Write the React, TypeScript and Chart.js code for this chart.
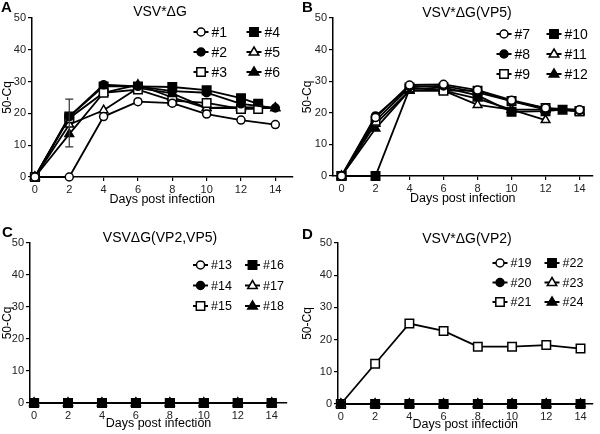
import React, { useEffect, useRef } from "react";
import { Chart, registerables } from "chart.js";

Chart.register(...registerables);
Chart.defaults.font.family = "'Liberation Sans', Arial, Helvetica, sans-serif";

// ---------- data ----------
const days = [0, 2, 4, 6, 8, 10, 12, 14];
const daysTo13 = [0, 2, 4, 6, 8, 10, 12, 13];
const daysTo12 = [0, 2, 4, 6, 8, 10, 12];
const daysB10 = [0, 2, 4, 6, 8, 10, 12, 13, 14];
const xTicks = [0, 2, 4, 6, 8, 10, 12, 14];
const yTicks = [0, 10, 20, 30, 40, 50];

// Panel A: VSV*ΔG
const a1 = [0, 0, 19, 23.7, 23.2, 19.8, 17.9, 16.5];
const a2 = [0, 19, 29, 28.5, 27, 26.5, 23, 21.7];
const a3 = [0, 18.5, 26.5, 27.5, 24, 23.3, 21.4, 21.4];
const a4 = [0, 19, 28.5, 28.5, 28.3, 27.3, 24.8, 23];
const a5 = [0, 16.5, 21, 28, 26.3, 21.7, 22, 21.7];
const a6 = [0, 13.5, 26.5, 29, 25, 21.7, 21.7, 21.7];
const aErrX = [2];
const aErrLow = [9.5];
const aErrHigh = [24.5];

// Panel B: VSV*ΔG(VP5)
const b7 = [0, 18.5, 28.8, 29, 27.2, 24, 21.5, 21];
const b8 = [0, 19, 28.3, 28.5, 26.5, 23.7, 21, 20.8];
const b9 = [0, 17.5, 28, 27, 27, 23.7, 21.5, 20.5];
const b10 = [0, 0, 27.5, 28, 25.5, 20.3, 20.5, 21, 20.5];
const b11 = [0, 16.5, 27, 27, 22.5, 21, 17.7];
const b12 = [0, 15, 27, 27, 24.5, 21, 21, 20.5];

// Panel C: VSVΔG(VP2,VP5)
const c13 = [0, 0, 0, 0, 0, 0, 0, 0];
const c14 = [0, 0, 0, 0, 0, 0, 0, 0];
const c15 = [0, 0, 0, 0, 0, 0, 0, 0];
const c16 = [0, 0, 0, 0, 0, 0, 0, 0];
const c17 = [0, 0, 0, 0, 0, 0, 0, 0];
const c18 = [0, 0, 0, 0, 0, 0, 0, 0];

// Panel D: VSV*ΔG(VP2)
const d19 = [0, 0, 0, 0, 0, 0, 0, 0];
const d20 = [0, 0, 0, 0, 0, 0, 0, 0];
const d21 = [0, 12.5, 25, 22.7, 17.8, 17.8, 18.3, 17.2];
const d22 = [0, 0, 0, 0, 0, 0, 0, 0];
const d23 = [0, 0, 0, 0, 0, 0, 0, 0];
const d24 = [0, 0, 0, 0, 0, 0, 0, 0];

// marker kinds in legend order
const markerKinds = ["openCircle", "filledCircle", "openRect", "filledRect", "openTriangle", "filledTriangle"];

// ---------- helpers ----------
function pts(xs: number[], ys: number[]) {
  return ys.map((y, i) => ({ x: xs[i], y }));
}

function markerStyle(kind: string) {
  const open = kind.startsWith("open");
  let pointStyle = "circle";
  let radius = 4;
  if (kind.endsWith("Rect")) {
    pointStyle = "rect";
    radius = 6;
  } else if (kind.endsWith("Triangle")) {
    pointStyle = "triangle";
    radius = 5;
  }
  return {
    pointStyle,
    pointRadius: radius,
    pointBackgroundColor: open ? "#fff" : "#000",
    pointBorderColor: "#000",
    pointBorderWidth: 1.5,
  };
}

function drawMarker(ctx: CanvasRenderingContext2D, kind: string, x: number, y: number) {
  const open = kind.startsWith("open");
  ctx.save();
  ctx.beginPath();
  if (kind.endsWith("Circle")) {
    ctx.arc(x, y, 4, 0, Math.PI * 2);
  } else if (kind.endsWith("Rect")) {
    const s = 4.2;
    ctx.rect(x - s, y - s, 2 * s, 2 * s);
  } else {
    const r = 5;
    ctx.moveTo(x, y - r);
    ctx.lineTo(x + r * 0.95, y + r * 0.6);
    ctx.lineTo(x - r * 0.95, y + r * 0.6);
    ctx.closePath();
  }
  ctx.fillStyle = open ? "#fff" : "#000";
  ctx.fill();
  ctx.lineWidth = 1.5;
  ctx.strokeStyle = "#000";
  ctx.stroke();
  ctx.restore();
}

const customLegend = {
  id: "customLegend",
  afterDraw(chart: any, _args: any, opts: any) {
    if (!opts || !opts.labels) return;
    const ctx = chart.ctx as CanvasRenderingContext2D;
    const area = chart.chartArea;
    ctx.save();
    ctx.font = `${opts.fontSize}px 'Liberation Sans', Arial, sans-serif`;
    ctx.textBaseline = "middle";
    ctx.fillStyle = "#000";
    opts.labels.forEach((label: string, i: number) => {
      const col = i < 3 ? 0 : 1;
      const row = i % 3;
      const x0 = area.right + (col === 0 ? opts.col1 : opts.col2);
      const y = area.top + opts.rowTop + row * opts.rowGap;
      ctx.beginPath();
      ctx.moveTo(x0, y);
      ctx.lineTo(x0 + 15, y);
      ctx.lineWidth = 2;
      ctx.strokeStyle = "#000";
      ctx.stroke();
      drawMarker(ctx, markerKinds[i], x0 + 7.5, y);
      ctx.fillStyle = "#000";
      ctx.fillText(label, x0 + 18, y + 1);
    });
    ctx.restore();
  },
};

const panelTitle = {
  id: "panelTitle",
  afterDraw(chart: any, _args: any, opts: any) {
    if (!opts || !opts.text) return;
    const ctx = chart.ctx as CanvasRenderingContext2D;
    ctx.save();
    ctx.fillStyle = "#000";
    ctx.textBaseline = "middle";
    ctx.textAlign = "center";
    ctx.font = "14px 'Liberation Sans', Arial, sans-serif";
    ctx.fillText(opts.text, opts.titleX, opts.titleY);
    ctx.textAlign = "left";
    ctx.font = "bold 15px 'Liberation Sans', Arial, sans-serif";
    ctx.fillText(opts.letter, opts.letterX, opts.letterY);
    ctx.restore();
  },
};

const errorBars = {
  id: "errorBars",
  afterDatasetsDraw(chart: any, _args: any, opts: any) {
    if (!opts || !opts.xs) return;
    const ctx = chart.ctx as CanvasRenderingContext2D;
    const xs = chart.scales.x;
    const ys = chart.scales.y;
    ctx.save();
    ctx.strokeStyle = "#333";
    ctx.lineWidth = 1.2;
    opts.xs.forEach((xv: number, i: number) => {
      const px = xs.getPixelForValue(xv);
      const lo = ys.getPixelForValue(opts.low[i]);
      const hi = ys.getPixelForValue(opts.high[i]);
      ctx.beginPath();
      ctx.moveTo(px, lo);
      ctx.lineTo(px, hi);
      ctx.moveTo(px - 4, lo);
      ctx.lineTo(px + 4, lo);
      ctx.moveTo(px - 4, hi);
      ctx.lineTo(px + 4, hi);
      ctx.stroke();
    });
    ctx.restore();
  },
};

type SeriesDef = { xs: number[]; ys: number[]; order?: number };

type PanelDef = {
  letter: string;
  title: string;
  labels: string[];
  series: SeriesDef[];
  xMin: number;
  xMax: number;
  yWidth: number;
  xHeight: number;
  padding: { top: number; left: number; right: number; bottom: number };
  titleX: number;
  titleY: number;
  letterX: number;
  letterY: number;
  legend: { col1: number; col2: number; rowTop: number; rowGap: number; fontSize: number };
  err?: { xs: number[]; low: number[]; high: number[] };
};

const panels: PanelDef[] = [
  {
    letter: "A",
    title: "VSV*ΔG",
    labels: ["#1", "#2", "#3", "#4", "#5", "#6"],
    series: [
      { xs: days, ys: a1 },
      { xs: days, ys: a2 },
      { xs: daysTo13, ys: a3 },
      { xs: daysTo13, ys: a4 },
      { xs: days, ys: a5 },
      { xs: days, ys: a6 },
    ],
    xMin: -0.17,
    xMax: 15,
    yWidth: 32,
    xHeight: 30,
    padding: { top: 18, left: 0, right: 7, bottom: 10 },
    titleX: 160,
    titleY: 12,
    letterX: 1,
    letterY: 8,
    legend: { col1: -99, col2: -46, rowTop: 14, rowGap: 20, fontSize: 14 },
    err: { xs: aErrX, low: aErrLow, high: aErrHigh },
  },
  {
    letter: "B",
    title: "VSV*ΔG(VP5)",
    labels: ["#7", "#8", "#9", "#10", "#11", "#12"],
    series: [
      { xs: days, ys: b7 },
      { xs: days, ys: b8 },
      { xs: days, ys: b9 },
      { xs: daysB10, ys: b10 },
      { xs: daysTo12, ys: b11 },
      { xs: days, ys: b12 },
    ],
    xMin: -0.5,
    xMax: 14.76,
    yWidth: 33,
    xHeight: 30,
    padding: { top: 18, left: 0, right: 7, bottom: 11 },
    titleX: 167,
    titleY: 13,
    letterX: 2,
    letterY: 8,
    legend: { col1: -96, col2: -46, rowTop: 16, rowGap: 20, fontSize: 14 },
  },
  {
    letter: "C",
    title: "VSVΔG(VP2,VP5)",
    labels: ["#13", "#14", "#15", "#16", "#17", "#18"],
    series: [
      { xs: days, ys: c13 },
      { xs: days, ys: c14 },
      { xs: days, ys: c15 },
      { xs: days, ys: c16, order: -1 },
      { xs: days, ys: c17 },
      { xs: days, ys: c18 },
    ],
    xMin: -0.24,
    xMax: 14.9,
    yWidth: 30,
    xHeight: 28,
    padding: { top: 26, left: 0, right: 13, bottom: 3 },
    titleX: 160,
    titleY: 21,
    letterX: 2,
    letterY: 16,
    legend: { col1: -94, col2: -42, rowTop: 22, rowGap: 20.5, fontSize: 12.5 },
  },
  {
    letter: "D",
    title: "VSV*ΔG(VP2)",
    labels: ["#19", "#20", "#21", "#22", "#23", "#24"],
    series: [
      { xs: days, ys: d19 },
      { xs: days, ys: d20, order: -1 },
      { xs: days, ys: d21 },
      { xs: days, ys: d22 },
      { xs: days, ys: d23 },
      { xs: days, ys: d24 },
    ],
    xMin: -0.17,
    xMax: 14.7,
    yWidth: 38,
    xHeight: 28,
    padding: { top: 26, left: 0, right: 7, bottom: 2 },
    titleX: 167,
    titleY: 22,
    letterX: 2,
    letterY: 18,
    legend: { col1: -100, col2: -48, rowTop: 20, rowGap: 19.5, fontSize: 12.5 },
  },
];

function Panel({ def }: { def: PanelDef }) {
  const ref = useRef<HTMLCanvasElement | null>(null);
  useEffect(() => {
    if (!ref.current) return;
    const datasets = def.series.map((s, i) => ({
      label: def.labels[i],
      data: pts(s.xs, s.ys),
      borderColor: "#000",
      borderWidth: 1.8,
      tension: 0,
      fill: false,
      clip: false as any,
      order: s.order ?? 0,
      ...markerStyle(markerKinds[i]),
    }));
    const axisCommon = {
      grid: {
        display: true,
        drawOnChartArea: false,
        drawTicks: true,
        tickLength: 4,
        color: "#000",
        lineWidth: 1.2,
      },
      border: { display: true, color: "#000", width: 1.5 },
    };
    const chart = new Chart(ref.current, {
      type: "line",
      data: { datasets: datasets as any },
      plugins: [customLegend, panelTitle, errorBars],
      options: {
        animation: false,
        responsive: false,
        layout: { padding: def.padding },
        plugins: {
          legend: { display: false },
          tooltip: { enabled: false },
          title: { display: false },
          customLegend: { labels: def.labels, ...def.legend },
          panelTitle: {
            text: def.title,
            letter: def.letter,
            titleX: def.titleX,
            titleY: def.titleY,
            letterX: def.letterX,
            letterY: def.letterY,
          },
          errorBars: def.err ? { xs: def.err.xs, low: def.err.low, high: def.err.high } : {},
        } as any,
        scales: {
          x: {
            type: "linear",
            min: def.xMin,
            max: def.xMax,
            afterBuildTicks: (s: any) => {
              s.ticks = xTicks.map((v) => ({ value: v }));
            },
            afterFit: (s: any) => {
              s.height = def.xHeight;
            },
            ...axisCommon,
            ticks: { padding: 2, color: "#222", font: { size: 11 }, maxRotation: 0, autoSkip: false },
            title: { display: true, text: "Days post infection", font: { size: 12.5 }, color: "#000", padding: 0 },
          },
          y: {
            type: "linear",
            min: 0,
            max: 50,
            afterBuildTicks: (s: any) => {
              s.ticks = yTicks.map((v) => ({ value: v }));
            },
            afterFit: (s: any) => {
              s.width = def.yWidth;
            },
            ...axisCommon,
            ticks: { padding: 2, color: "#222", font: { size: 11 }, autoSkip: false },
            title: { display: true, text: "50-Cq", font: { size: 12 }, color: "#000", padding: 0 },
          },
        } as any,
      },
    });
    return () => chart.destroy();
  }, [def]);
  return <canvas ref={ref} width={300} height={217} style={{ display: "block" }} />;
}

export default function App() {
  return (
    <div
      style={{
        position: "absolute",
        left: 0,
        top: 0,
        width: 600,
        height: 434,
        background: "#fff",
        display: "grid",
        gridTemplateColumns: "300px 300px",
        gridTemplateRows: "217px 217px",
      }}
    >
      {panels.map((p) => (
        <Panel key={p.letter} def={p} />
      ))}
    </div>
  );
}
